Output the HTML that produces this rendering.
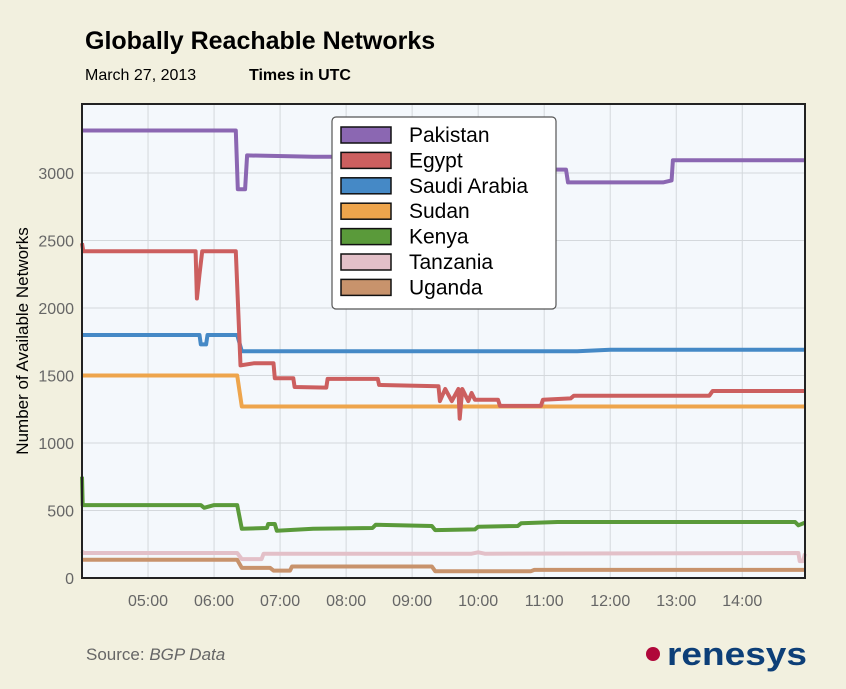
<!DOCTYPE html>
<html><head><meta charset="utf-8"><style>
body{margin:0;background:#f2f0df;}
svg{display:block;font-family:"Liberation Sans",sans-serif;}
</style></head><body>
<svg id="chart" width="846" height="689">
<rect width="846" height="689" fill="#f2f0df"/>
<text x="85" y="49" font-size="25" font-weight="bold" fill="#000">Globally Reachable Networks</text>
<text x="85" y="80" font-size="16" fill="#000">March 27, 2013</text>
<text x="249" y="80" font-size="16" font-weight="bold" fill="#000">Times in UTC</text>
<rect x="82" y="104" width="723" height="474" fill="#f4f8fc"/>
<g id="grid"></g>
<g id="series"></g>
<rect x="82" y="104" width="723" height="474" fill="none" stroke="#222" stroke-width="2"/>
<g id="ticks"></g>
<text transform="translate(28,341) rotate(-90)" text-anchor="middle" font-size="17" fill="#000">Number of Available Networks</text>
<g id="legend"></g>
<text x="86" y="660" font-size="17" fill="#666">Source:  <tspan font-style="italic">BGP Data</tspan></text>
<circle cx="653" cy="654" r="7" fill="#b0073a"/>
<text x="667" y="665" font-size="32" font-weight="bold" fill="#0d3f78" textLength="140" lengthAdjust="spacingAndGlyphs">renesys</text>
</svg>
<script>
const seriesNames=["Pakistan","Egypt","Saudi Arabia","Sudan","Kenya","Tanzania","Uganda"];
const seriesColors=["#8b67b2","#cc5f5f","#4589c6","#eea54c","#5a9a3a","#e3c0c8","#c8936c"];
const yTicks=[0,500,1000,1500,2000,2500,3000];
const xTickHours=[5,6,7,8,9,10,11,12,13,14];
const xTickLabels=["05:00","06:00","07:00","08:00","09:00","10:00","11:00","12:00","13:00","14:00"];
// step series: [hour, value]
const pakistan=[[4.0,3315],[6.33,3315],[6.36,2880],[6.47,2880],[6.5,3130],[7.5,3120],[8.0,3120],[9.0,3030],[11.33,3025],[11.36,2930],[12.8,2930],[12.93,2945],[12.95,3095],[14.95,3095]];
const egypt=[[4.0,2480],[4.02,2420],[5.72,2420],[5.74,2070],[5.78,2250],[5.82,2420],[6.33,2420],[6.4,1575],[6.6,1590],[6.9,1590],[6.92,1480],[7.2,1480],[7.22,1415],[7.7,1410],[7.72,1475],[8.48,1475],[8.5,1430],[9.4,1420],[9.42,1310],[9.5,1400],[9.6,1310],[9.7,1400],[9.72,1180],[9.76,1400],[9.85,1310],[9.9,1370],[9.95,1320],[10.3,1320],[10.33,1275],[10.95,1275],[10.98,1320],[11.4,1330],[11.45,1350],[13.5,1350],[13.55,1385],[14.95,1385]];
const saudi=[[4.0,1800],[5.78,1800],[5.8,1730],[5.88,1730],[5.9,1800],[6.35,1800],[6.42,1680],[11.5,1680],[12.0,1690],[14.95,1690]];
const sudan=[[4.0,1500],[6.35,1500],[6.42,1270],[14.95,1270]];
const kenya=[[4.0,750],[4.01,540],[5.8,540],[5.85,520],[6.0,540],[6.35,540],[6.42,365],[6.8,370],[6.82,400],[6.92,400],[6.95,350],[7.5,365],[8.4,370],[8.45,395],[9.3,385],[9.35,355],[9.95,360],[10.0,380],[10.6,385],[10.65,405],[11.2,415],[14.8,415],[14.85,390],[14.95,410]];
const tanzania=[[4.0,200],[4.02,185],[6.35,185],[6.42,140],[6.72,140],[6.75,180],[9.9,180],[10.0,190],[10.1,180],[14.85,185],[14.87,125],[14.92,125],[14.95,180]];
const uganda=[[4.0,135],[6.35,135],[6.42,75],[6.85,75],[6.9,55],[7.15,55],[7.18,85],[9.3,85],[9.35,50],[10.8,50],[10.85,60],[14.95,60]];
const seriesData=[pakistan,egypt,saudi,sudan,kenya,tanzania,uganda];

const X0=82,X1=805,Y0=578,Y1=104,HMIN=4.0,HMAX=14.95,VMAX=3511;
const xs=h=>X0+(h-HMIN)/(HMAX-HMIN)*(X1-X0);
const ys=v=>Y0-v/VMAX*(Y0-Y1);
const NS="http://www.w3.org/2000/svg";
function mk(tag,attrs,parent){const e=document.createElementNS(NS,tag);for(const k in attrs)e.setAttribute(k,attrs[k]);parent.appendChild(e);return e;}
const grid=document.getElementById('grid'),ticks=document.getElementById('ticks');
yTicks.forEach(v=>{
  const l=mk('line',{x1:X0,x2:X1,y1:ys(v),y2:ys(v),stroke:'#d4d8dc','stroke-width':1},grid);
  
  
  const t=mk('text',{x:74,y:ys(v)+6,'text-anchor':'end','font-size':16,fill:'#666'},ticks);
  t.textContent=v;
  
  
});
xTickHours.forEach((h,i)=>{
  const l=mk('line',{x1:xs(h),x2:xs(h),y1:Y1,y2:Y0,stroke:'#d4d8dc','stroke-width':1},grid);
  
  
  const t=mk('text',{x:xs(h),y:606,'text-anchor':'middle','font-size':16,fill:'#666'},ticks);
  t.textContent=xTickLabels[i];
  
  
});
const sg=document.getElementById('series');
for(let s=seriesData.length-1;s>=0;s--){
  const d=seriesData[s].map((p,i)=>(i?'L':'M')+xs(p[0]).toFixed(1)+' '+ys(p[1]).toFixed(1)).join(' ');
  const p=mk('path',{d:d,fill:'none',stroke:seriesColors[s],'stroke-width':4,'stroke-linejoin':'round'},sg);
  
  
}
const lg=document.getElementById('legend');
const box=mk('rect',{x:332,y:117,width:224,height:192,rx:4,fill:'#fff',stroke:'#555','stroke-width':1.2},lg);


seriesNames.forEach((n,i)=>{
  const cy=135+i*25.4;
  const r=mk('rect',{x:341,y:cy-8,width:50,height:16,fill:seriesColors[i],stroke:'#111','stroke-width':1.5},lg);
  
  
  const t=mk('text',{x:409,y:cy+7,'font-size':21,fill:'#000'},lg);
  t.textContent=n;
  
  
});
</script>
</body></html>
